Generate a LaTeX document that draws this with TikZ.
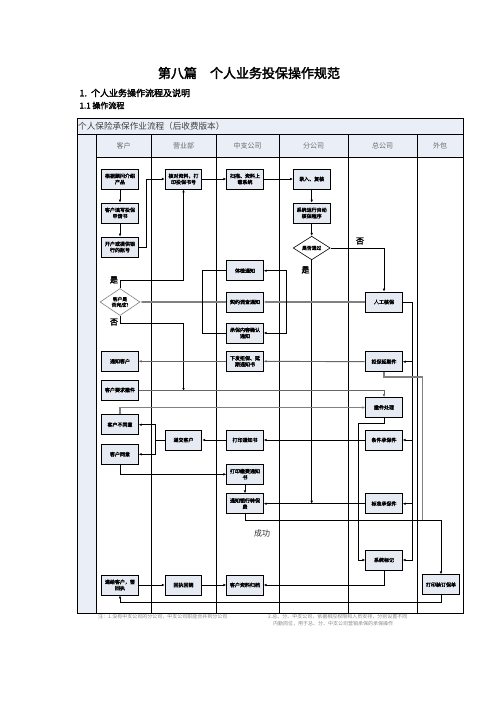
\documentclass[tikz,border=0pt]{standalone}
\usepackage{fontspec}
\usepackage{tikz}
\usetikzlibrary{arrows.meta, shapes.geometric}
\newfontfamily\cjk[AutoFakeBold=2.5]{Noto Sans CJK SC}
\definecolor{boxfill}{HTML}{E6EAF3}
\definecolor{headfill}{HTML}{E9EEF7}
\definecolor{linegray}{HTML}{808080}
\definecolor{headtext}{HTML}{6A6A6A}
\definecolor{notetext}{HTML}{8A8A8A}

\begin{document}
\begin{tikzpicture}[x=1pt, y=-1pt,
  box/.style={draw, line width=0.7pt, fill=boxfill, minimum width=36.6pt, minimum height=20pt,
    inner sep=0.5pt, align=center, font=\cjk\bfseries\fontsize{5}{6.2}\selectfont},
  decision/.style={diamond, draw, fill=white, line width=0.6pt, minimum width=38pt, minimum height=20pt,
    inner sep=0pt, align=center, font=\cjk\bfseries\fontsize{4.8}{5.8}\selectfont},
  flow/.style={-{Latex[length=3pt,width=2.6pt]}, line width=0.7pt},
  flowgray/.style={flow, draw=linegray, line width=1.5pt},
  flowmid/.style={flow, draw=linegray!80!black, line width=0.9pt},
  lanehead/.style={font=\cjk\fontsize{7}{8}\selectfont, text=headtext},
  yesno/.style={font=\cjk\bfseries\fontsize{8}{9}\selectfont},
  note/.style={font=\cjk\fontsize{5}{6}\selectfont, text=notetext, inner sep=0pt}]

  \fill[white] (0,0) rectangle (496,702);
  \path[use as bounding box] (0,0) rectangle (496,702);

  % headings
  \node[font=\cjk\bfseries\fontsize{13}{15}\selectfont] (title) at (249,73) {第八篇\quad 个人业务投保操作规范};
  \node[font=\cjk\bfseries\fontsize{9}{10}\selectfont, anchor=west] (sec1) at (76,93) {1.\ \ 个人业务操作流程及说明};
  \node[font=\cjk\bfseries\fontsize{8}{9}\selectfont, anchor=west] (sec11) at (76,105.5) {1.1 操作流程};

  % table frame and lanes
  \fill[headfill] (77,118) rectangle (463,157);
  \fill[headfill] (77,157) rectangle (96,613);
  \draw[line width=0.9pt] (77,118) rectangle (463,613);
  \draw[line width=0.9pt] (77,134) -- (463,134);
  \draw[line width=0.9pt] (96,157) -- (463,157);
  \foreach \x in {96,151,216,279,348,417}
    \draw[line width=0.9pt] (\x,134) -- (\x,613);
  \node[font=\cjk\fontsize{8.6}{10}\selectfont, text=black!75, anchor=west, inner sep=0pt] (flowname) at (78,126) {个人保险承保作业流程（后收费版本）};
  \node[lanehead] (lane1) at (123.5,145.5) {客户};
  \node[lanehead] (lane2) at (183.5,145.5) {营业部};
  \node[lanehead] (lane3) at (247.5,145.5) {中支公司};
  \node[lanehead] (lane4) at (313.5,145.5) {分公司};
  \node[lanehead] (lane5) at (382.5,145.5) {总公司};
  \node[lanehead] (lane6) at (440,145.5) {外包};

  % customer lane
  \node[box] (cGuwen) at (120,179) {根据顾问介绍\\产品};
  \node[box] (cTianxie) at (120,213) {客户填写投保\\申请书};
  \node[box] (cKaihu) at (120,247) {开户或提供银\\行的账号};
  \node[decision, draw=linegray, minimum width=40pt] (cWancheng) at (120,302) {客户是\\否完成?};
  \node[box] (cTongzhi) at (120,361.3) {通知客户};
  \node[box] (cChejian) at (120,390) {客户要求撤件};
  \node[box] (cBuTongyi) at (120,424.7) {客户不同意};
  \node[box] (cTongyi) at (120,454.3) {客户同意};
  \node[box] (cQianhui) at (120,585) {递给客户，签\\回执};

  % sales office lane
  \node[box] (yHedui) at (183.5,179) {核对资料，打\\印投保书号};
  \node[box] (yDijiao) at (183.5,440) {递交客户};
  \node[box] (yHuizhi) at (183.5,585) {回执回销};

  % sub-branch lane
  \node[box] (zSaomiao) at (245,179) {扫描、资料上\\载系统};
  \node[box] (zTijian) at (245,270.7) {体检通知};
  \node[box] (zQiyue) at (245,302) {契约调查通知};
  \node[box] (zQueren) at (245,333) {承保内容确认\\通知};
  \node[box] (zXiafa) at (245,361.3) {下发拒保、延\\期通知书};
  \node[box] (zDayin) at (245,440) {打印通知书};
  \node[box] (zJiaofei) at (245,474.3) {打印缴费通知\\书};
  \node[box] (zYinhang) at (245,503.7) {通知银行转保\\费};
  \node[box] (zGuidang) at (245,585) {客户资料归档};

  % branch lane
  \node[box] (fLuru) at (311.7,179) {录入、复核};
  \node[box] (fHebao) at (311.7,213) {系统运行自动\\核保程序};
  \node[decision, minimum width=37pt] (fTongguo) at (311.7,248) {是否通过};

  % head office lane
  \node[box] (hRengong) at (384,302) {人工核保};
  \node[box] (hJubao) at (384,361.7) {拒保延期件};
  \node[box] (hChejian) at (384,407.5) {撤件处理};
  \node[box] (hTiaojian) at (384,440) {条件承保件};
  \node[box] (hBiaozhun) at (384,503.7) {标准承保件};
  \node[box] (hBiaoji) at (384,560) {系统标记};

  % outsourcing lane
  \node[box] (wZhuangding) at (441,584.7) {打印装订保单};

  % labels
  \node[yesno] (lblFou1) at (360,241) {否};
  \node[yesno] (lblShi1) at (305.5,270) {是};
  \node[yesno] (lblShi2) at (114,280) {是};
  \node[yesno] (lblFou2) at (114,322) {否};
  \node[font=\cjk\fontsize{8}{9}\selectfont, text=black!80] (lblOk) at (262,533) {成功};

  % connectors
  \draw[flow] (cGuwen) -- (cTianxie);
  \draw[flow] (cTianxie) -- (cKaihu);
  \draw[flow] (cKaihu.east) -- ++(8,0) |- (yHedui.west);
  \draw[flow] (yHedui) -- (zSaomiao);
  \draw[flow] (zSaomiao) -- (fLuru);
  \draw[flow] (fLuru) -- (fHebao);
  \draw[flow] (fHebao) -- (fTongguo);
  \draw[flow] (fTongguo.east) -| (hRengong.north);
  \draw[flow] (fTongguo.south) -- (fTongguo.south |- hBiaozhun.west);

  \draw[flowgray] (hRengong.west) -- (zQiyue.east);
  \draw[flowgray] (zQiyue.west) -- (cWancheng.east);
  \coordinate (jR) at (286,302);
  \draw[flow] (jR) |- (zTijian.east);
  \draw[flow] (jR) |- (zQueren.east);
  \coordinate (jL) at (202.7,302);
  \draw[line width=0.7pt] (zTijian.west) -| (jL) |- (zQueren.west);

  \draw[flow] (cWancheng.north) -- ++(0,-8) -| (yHedui.south);
  \draw[flow] (cWancheng.south) -- ++(0,8) -| ([yshift=-1pt]yHedui.south |- cChejian.east);

  \draw[line width=0.7pt] (hRengong.east) -- ++(10,0) coordinate (jH);
  \draw[flow] (jH) |- (hJubao.east);
  \draw[flow] (jH) |- (hTiaojian.east);
  \draw[flow] (jH) |- (hBiaozhun.east);
  \draw[flow] (jH) |- (hBiaoji.east);

  \draw[flowmid] (hJubao.west) -- (zXiafa.east);
  \draw[flowmid] (zXiafa.west) -- (cTongzhi.east);
  \draw[draw=linegray, line width=1.2pt] (hJubao.south) -- ++(0,5) -| (422.3,520);

  \draw[flowmid] (cChejian.east) -| (hChejian.north);
  \draw[flowgray] (cBuTongyi.north) |- (hChejian.west);
  \draw[flow] (hChejian.south) -- ++(0,5) -- ++(-25.7,0) |- (hBiaoji.west);

  \draw[flow] (hTiaojian.west) -- (zDayin.east);
  \draw[flow] (zDayin.west) -- (yDijiao.east);
  \draw[line width=0.7pt] (yDijiao.west) -- ++(-9.6,0) coordinate (jD);
  \draw[flow] (jD) |- (cBuTongyi.east);
  \draw[flow] (jD) |- (cTongyi.east);

  \draw[flow] (cTongyi.south) |- (zJiaofei.west);
  \draw[flow] (zJiaofei) -- (zYinhang);
  \draw[flow] (hBiaozhun.west) -- (zYinhang.east);
  \draw[flow] (zYinhang.south) -- ++(0,6) -| (wZhuangding.north);

  \draw[flow] (hBiaoji.south) |- (zGuidang.east);
  \draw[flow] (cQianhui) -- (yHuizhi);
  \draw[flow] (yHuizhi) -- (zGuidang);
  \draw[flow] (wZhuangding.south) -- ++(0,7) -| (cQianhui.south);

  % notes
  \node[note, anchor=west] (note1) at (98,617) {注：1.没有中支公司的分公司，中支公司职能合并到分公司};
  \node[note, anchor=west] (note2) at (268,617) {2.总、分、中支公司，依据相应权限和人员安排，分别设置不同};
  \node[note, anchor=west] (note3) at (273,623.5) {内勤岗位，用于总、分、中支公司营销承保的承保操作};
\end{tikzpicture}
\end{document}
